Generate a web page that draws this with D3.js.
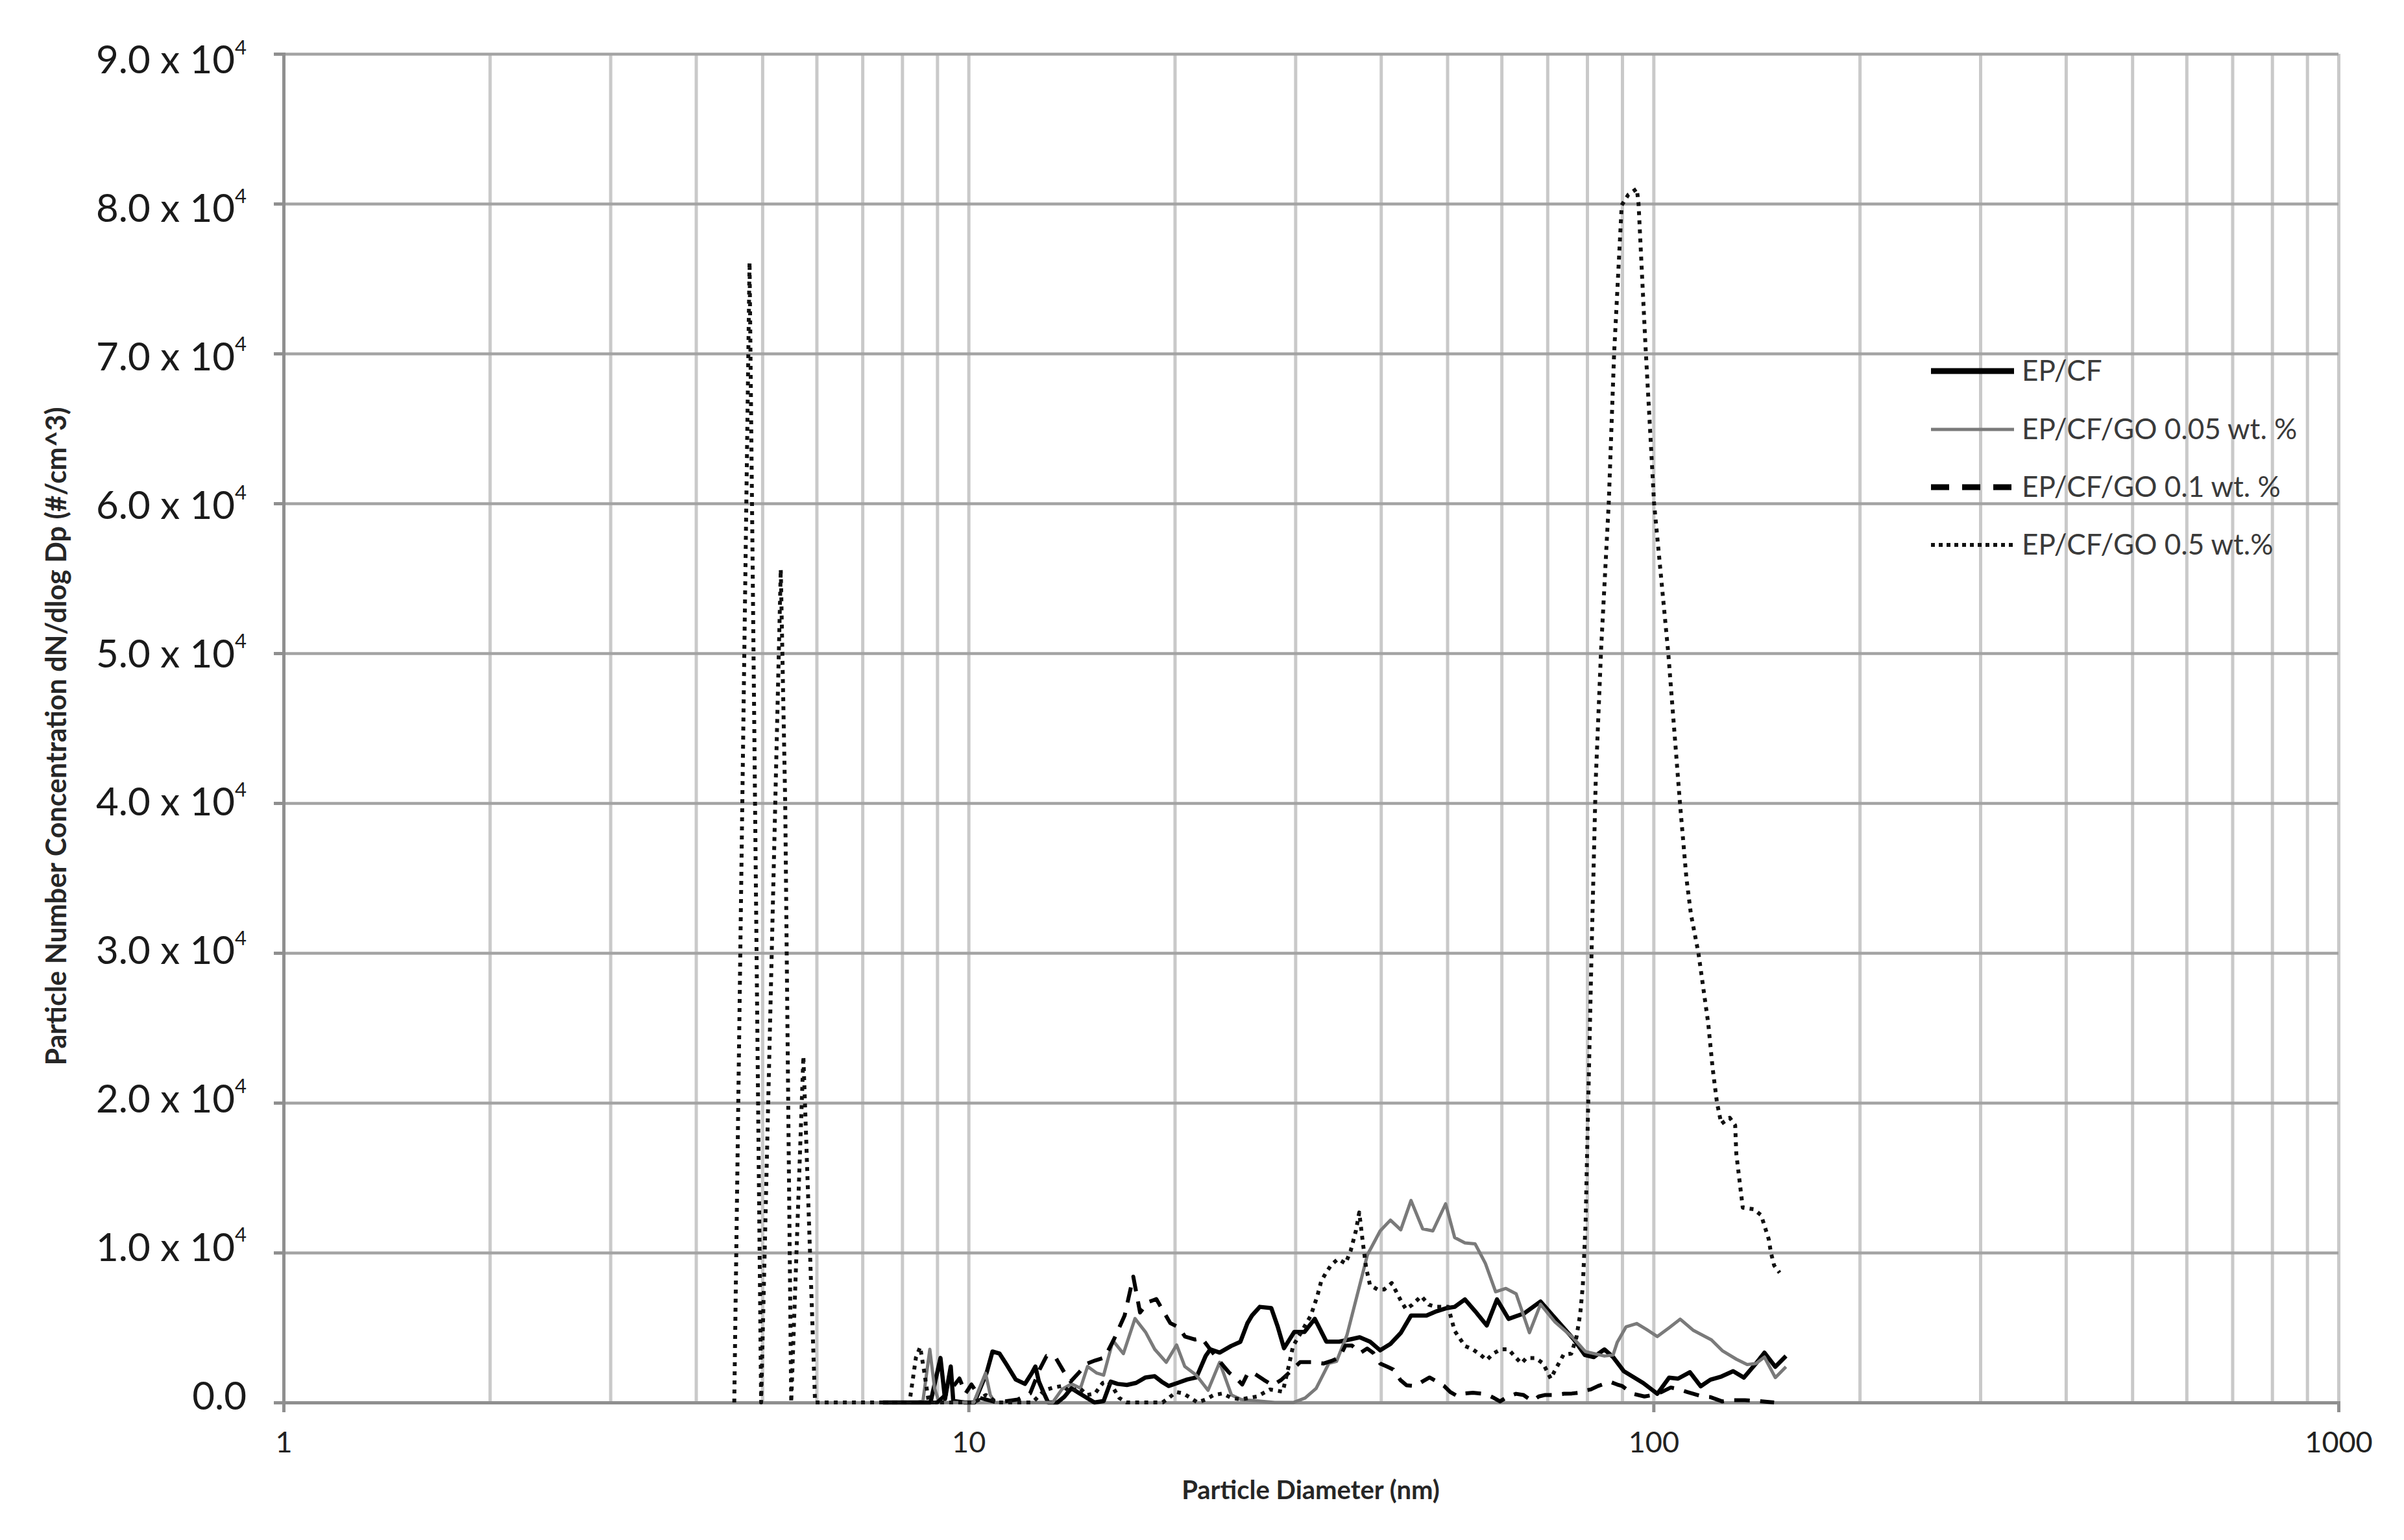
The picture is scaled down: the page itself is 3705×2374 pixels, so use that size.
<!DOCTYPE html>
<html><head><meta charset="utf-8">
<script src="https://cdn.jsdelivr.net/npm/d3@7"></script>
<style>html,body{margin:0;padding:0;background:#fff;} svg{display:block;}</style>
</head><body>
<svg id="chart" width="3705" height="2374"></svg>
<script>
// ---------------- DATA ----------------
const seriesNames = ["EP/CF", "EP/CF/GO 0.05 wt. %", "EP/CF/GO 0.1 wt. %", "EP/CF/GO 0.5 wt.%"];
const xTickValues = [1, 10, 100, 1000];
const yTickValues = [0, 10000, 20000, 30000, 40000, 50000, 60000, 70000, 80000, 90000];
const yTickMantissa = ["0.0", "1.0", "2.0", "3.0", "4.0", "5.0", "6.0", "7.0", "8.0", "9.0"];
const xTitle = "Particle Diameter (nm)";
const yTitle = "Particle Number Concentration dN/dlog Dp (#/cm^3)";

// [diameter nm, dN/dlogDp]
const epcf = [[7.5,0],[8.4,0],[8.8,0],[8.95,1500],[9.1,2970],[9.24,230],[9.42,2400],[9.5,100],[9.87,0],[10.2,0],[10.63,2000],[10.84,3400],[11.1,3260],[11.36,2540],[11.72,1530],[12.09,1240],[12.37,1960],[12.52,2400],[12.67,1390],[12.87,660],[13.07,0],[13.48,0],[13.8,380],[14.13,950],[14.46,660],[14.8,380],[15.27,0],[15.75,100],[16.13,1390],[16.51,1240],[17.03,1170],[17.57,1310],[18.13,1670],[18.7,1750],[19.14,1390],[19.59,1100],[20.21,1310],[20.85,1530],[21.51,1670],[22.19,3100],[22.54,3550],[23.26,3330],[24.18,3770],[24.94,4050],[25.53,5280],[25.93,5800],[26.62,6380],[27.67,6300],[28.27,5070],[28.88,3620],[29.89,4710],[30.94,4710],[32.03,5580],[33.3,4060],[34.76,4060],[35.98,4200],[37.25,4350],[38.56,4060],[39.9,3480],[41.3,3910],[42.76,4640],[44.26,5800],[46.62,5800],[48.25,6090],[49.94,6300],[51.25,6380],[53.05,6880],[54.91,6090],[57.09,5140],[59.09,6880],[61.44,5580],[64.7,5940],[68.4,6740],[72.3,5480],[76.6,4180],[79.4,3170],[81.8,3030],[84.8,3540],[87.3,3030],[90.5,2090],[96.6,1300],[101.3,580],[105.4,1660],[108.6,1590],[113.0,2020],[117.2,1080],[121.1,1520],[125.6,1730],[130.7,2090],[135.5,1660],[141.1,2600],[145.2,3320],[150.6,2380],[156.1,3100]];

const go005 = [[8.4,0],[8.58,100],[8.78,3550],[8.92,950],[9.06,0],[10.18,0],[10.59,1960],[10.76,500],[10.93,0],[13.27,0],[13.69,880],[14.13,1240],[14.57,950],[14.92,2400],[15.39,1960],[15.75,1820],[16.25,4130],[16.83,3260],[17.5,5600],[18.13,4700],[18.7,3550],[19.44,2680],[20.13,3840],[20.69,2400],[21.51,1820],[22.37,810],[23.26,2680],[24.2,500],[25.0,200],[26.5,100],[28.0,0],[29.8,0],[31.0,300],[32.17,940],[33.58,2610],[34.46,2750],[35.68,4490],[37.25,7830],[38.23,9860],[39.9,11450],[41.3,12170],[42.76,11520],[44.26,13480],[46.02,11590],[47.63,11450],[49.72,13260],[51.25,11010],[53.05,10650],[54.91,10580],[56.83,9280],[58.82,7390],[60.88,7610],[63.02,7250],[65.9,4660],[68.4,6550],[71.72,5400],[76.19,4350],[79.5,3400],[84.8,3100],[87.3,3170],[88.5,4000],[91.2,5050],[94.5,5270],[97.5,4900],[101.3,4400],[105.5,5000],[109.4,5560],[114.2,4830],[121.5,4180],[126.0,3460],[132.1,2890],[137.0,2530],[141.1,2600],[145.2,3030],[150.6,1660],[156.1,2380]];

const go01 = [[7.5,0],[9.0,0],[9.4,800],[9.7,1600],[9.9,600],[10.1,1200],[10.4,300],[11.0,0],[11.8,200],[12.3,600],[12.7,2200],[13.0,3100],[13.4,3000],[13.8,2000],[14.1,1400],[14.5,2000],[14.9,2600],[15.3,2800],[15.8,3000],[16.3,4200],[16.9,5800],[17.4,8400],[17.8,6000],[18.3,6700],[18.8,6900],[19.3,6000],[19.7,5300],[20.3,5000],[20.7,4400],[21.4,4200],[21.9,4300],[22.4,3700],[23.3,2700],[24.0,2000],[24.6,1600],[25.1,1200],[25.6,2000],[26.2,1900],[27.0,1500],[27.8,1150],[28.6,1500],[29.4,2000],[30.5,2700],[31.7,2700],[33.0,2600],[34.0,2800],[34.8,3000],[35.5,3800],[36.3,3800],[37.3,3300],[38.2,3600],[39.0,3300],[39.9,2600],[40.8,2400],[41.7,2200],[42.7,1500],[43.6,1150],[44.9,1100],[46.0,1400],[47.1,1670],[48.3,1400],[49.5,1090],[50.5,700],[51.7,430],[53.0,600],[54.5,650],[56.0,600],[57.3,500],[58.5,300],[59.7,70],[61.3,400],[63.0,580],[64.6,500],[66.5,100],[68.0,400],[69.5,500],[71.5,500],[74.0,580],[76.0,600],[77.9,650],[79.5,800],[81.0,870],[83.0,1100],[86.4,1380],[88.5,1200],[90.0,1100],[93.0,600],[97.0,400],[100.0,500],[103.0,720],[106.0,1000],[108.5,900],[112.0,700],[118.0,400],[121.0,360],[126.0,70],[130.0,150],[136.0,150],[142.0,100],[150.0,0]];

const go05 = [[4.55,0],[4.79,76100],[4.98,0],[5.32,55600],[5.40,40000],[5.51,0],[5.74,23100],[5.97,0],[7.0,0],[8.2,0],[8.38,3000],[8.5,3700],[8.62,2000],[8.75,0],[10.2,0],[10.6,500],[11.0,0],[12.4,0],[12.9,800],[13.3,1000],[13.7,1100],[14.1,700],[14.5,1000],[14.9,500],[15.3,600],[15.7,1300],[16.0,1400],[16.3,900],[16.6,300],[17.0,0],[19.2,0],[19.6,300],[20.1,700],[20.6,600],[21.1,300],[21.6,0],[22.2,200],[22.8,500],[23.5,600],[24.2,300],[25.0,200],[25.6,300],[26.4,400],[27.55,870],[28.76,720],[29.38,2540],[29.77,3770],[30.7,4800],[31.6,5800],[32.3,7100],[32.73,8100],[33.3,8700],[33.88,9200],[34.62,9570],[35.52,9280],[36.14,10140],[36.77,11450],[37.19,12680],[37.63,10720],[38.06,8990],[38.56,7830],[39.56,7540],[40.43,7540],[41.49,7970],[42.76,6810],[43.51,6230],[44.45,6520],[45.81,7100],[47.0,6520],[48.25,6380],[50.15,6380],[51.25,4780],[53.05,3770],[54.45,3550],[55.87,3190],[57.09,2830],[58.33,3260],[59.85,3550],[61.42,3550],[63.02,2970],[64.12,2610],[65.24,2970],[67.23,2970],[68.99,2610],[70.8,1590],[71.72,2100],[73.91,3190],[75.86,3260],[77.18,4350],[78.18,5940],[78.86,7830],[79.6,12000],[80.3,20000],[81.2,30000],[82.35,41500],[83.86,50300],[86.03,60000],[87.6,70000],[89.87,79900],[91.87,80600],[94.55,81000],[95.1,80000],[97.35,70500],[100.2,60000],[105.1,50000],[109.3,40000],[111.7,35000],[113.4,32600],[116.3,30000],[120.2,25300],[122.0,22300],[123.8,20000],[125.6,18600],[129.2,19000],[131.6,18500],[132.1,16600],[135.0,13000],[140.0,12900],[143.6,12500],[147.3,10900],[148.4,10000],[150.0,9150],[152.8,8660]];

// ---------------- CHART ----------------
const FONT = "Lato, 'Open Sans', 'DejaVu Sans', sans-serif";
const plot = {left: 437, right: 3604, top: 83, bottom: 2162};
const x = d3.scaleLog().domain([1, 1000]).range([plot.left, plot.right]);
const y = d3.scaleLinear().domain([0, 90000]).range([plot.bottom, plot.top]);
const svg = d3.select("#chart");
svg.append("rect").attr("width", 3705).attr("height", 2374).attr("fill", "#fff");

// vertical gridlines (log minor)
svg.append("g")
  .attr("transform", `translate(0,${plot.bottom})`)
  .call(d3.axisBottom(x).tickValues(x.ticks()).tickSize(-(plot.bottom - plot.top)).tickFormat(""))
  .call(g => g.select(".domain").remove())
  .call(g => g.selectAll("line").attr("stroke", "#c9c9c9").attr("stroke-width", 5));

// horizontal gridlines
svg.append("g")
  .attr("transform", `translate(${plot.left},0)`)
  .call(d3.axisLeft(y).tickValues(yTickValues).tickSize(-(plot.right - plot.left)).tickFormat(""))
  .call(g => g.select(".domain").remove())
  .call(g => g.selectAll("line").attr("stroke", "#a3a3a3").attr("stroke-width", 4.5));

// x axis
const xAxis = svg.append("g")
  .attr("transform", `translate(0,${plot.bottom})`)
  .call(d3.axisBottom(x).tickValues(xTickValues).tickSize(15).tickPadding(30).tickFormat(d3.format("d")));
xAxis.select(".domain").attr("stroke", "#8f8f8f").attr("stroke-width", 5);
xAxis.selectAll(".tick line").attr("stroke", "#8f8f8f").attr("stroke-width", 5);
xAxis.selectAll(".tick text").attr("font-family", FONT).attr("font-size", 45).attr("fill", "#222");

// y axis
const yAxis = svg.append("g")
  .attr("transform", `translate(${plot.left},0)`)
  .call(d3.axisLeft(y).tickValues(yTickValues).tickSize(15).tickPadding(42).tickFormat(""));
yAxis.select(".domain").attr("stroke", "#8f8f8f").attr("stroke-width", 5);
yAxis.selectAll(".tick line").attr("stroke", "#8f8f8f").attr("stroke-width", 5);
yAxis.selectAll(".tick text").each(function(d, i) {
  const t = d3.select(this)
    .attr("font-family", FONT).attr("font-size", 60).attr("fill", "#1a1a1a")
    .attr("dy", "0.35em")
    .attr("y", (d / 10000 - 5) * 2.2);
  if (d === 0) {
    t.text(yTickMantissa[i]);
  } else {
    t.append("tspan").text(yTickMantissa[i] + " x 10");
    t.append("tspan").attr("font-size", 31).attr("dy", "-0.95em").text("4");
  }
});

// series
const line = d3.line().x(d => x(d[0])).y(d => y(d[1]));
const styles = [
  {data: epcf,  color: "#000",     width: 6.5, dash: null,    lw: 9,   ldash: null},
  {data: go005, color: "#7a7a7a",  width: 5,   dash: null,    lw: 5,   ldash: null},
  {data: go01,  color: "#000",     width: 6,   dash: "24 16", lw: 9,   ldash: "28 20"},
  {data: go05,  color: "#111",     width: 6,   dash: "6 8",   lw: 6,   ldash: "6 6"}
];
const gSeries = svg.append("g");
styles.forEach(s => {
  gSeries.append("path")
    .datum(s.data)
    .attr("d", line)
    .attr("fill", "none")
    .attr("stroke", s.color)
    .attr("stroke-width", s.width)
    .attr("stroke-linejoin", "round")
    .attr("stroke-dasharray", s.dash);
});

// legend
const legendY = [572, 662, 751, 840];
const lg = svg.append("g");
seriesNames.forEach((name, i) => {
  const s = styles[i];
  lg.append("line")
    .attr("x1", 2976).attr("x2", 3104)
    .attr("y1", legendY[i]).attr("y2", legendY[i])
    .attr("stroke", s.color).attr("stroke-width", s.lw)
    .attr("stroke-dasharray", s.ldash);
  lg.append("text")
    .attr("x", 3116).attr("y", legendY[i]).attr("dy", "0.35em")
    .attr("font-family", FONT).attr("font-size", 44).attr("fill", "#3a3a3a")
    .text(name);
});

// titles
svg.append("text")
  .attr("x", 2020).attr("y", 2297).attr("dy", "0.35em")
  .attr("text-anchor", "middle")
  .attr("font-family", FONT).attr("font-weight", "bold").attr("font-size", 40).attr("fill", "#262626")
  .text(xTitle);
svg.append("text")
  .attr("transform", "translate(87,1135) rotate(-90)")
  .attr("dy", "0.35em")
  .attr("text-anchor", "middle")
  .attr("font-family", FONT).attr("font-weight", "bold").attr("font-size", 43).attr("fill", "#262626")
  .text(yTitle);
</script>
</body></html>
